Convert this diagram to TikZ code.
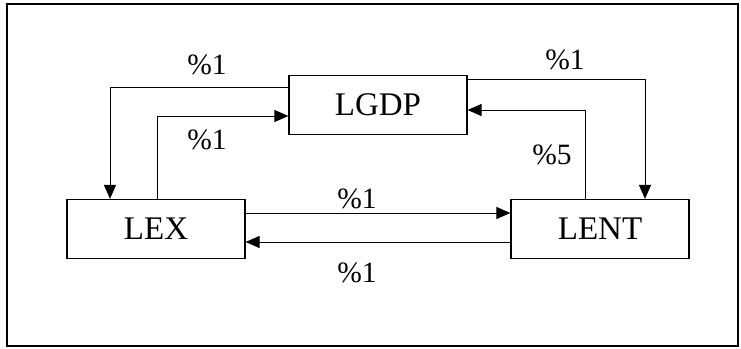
\documentclass[tikz,border=0pt]{standalone}
\usepackage{fontspec}
\setmainfont{Liberation Serif}
\usetikzlibrary{arrows.meta}
\tikzset{
	varbox/.style={draw, line width=1.2pt, inner sep=0pt, minimum width=178pt, minimum height=59pt, font=\fontsize{33}{34}\selectfont},
	lagtext/.style={inner sep=0pt, font=\fontsize{29.5}{30}\selectfont},
	arr/.style={line width=1pt, -{Triangle[length=14pt, width=12pt]}}
}
\begin{document}
\begin{tikzpicture}[x=1pt, y=-1pt]
	\useasboundingbox (0, 0) rectangle (741, 348);
	\draw[line width=2pt](7, 4) rectangle (738, 346);

		% the three variables
		\node[varbox](lgdp) at(378, 105){LGDP};
		\node[varbox](lex) at(156, 229){LEX};
		\node[varbox](lent) at(600, 229){LENT};

		% bends of the connectors
		\coordinate(b1) at(110, 87);
		\coordinate(b2) at(157, 116);
		\coordinate(b3) at(645, 79);
		\coordinate(b4) at(585, 110);
		\coordinate(h1) at(0, 213);
		\coordinate(h2) at(0, 242);

			\draw[arr](lgdp.west |- b1) -- (b1) -- (b1 |- lex.north);
			\node[lagtext](l1) at(207, 65){\%1};

			\draw[arr](b2 |- lex.north) -- (b2) -- (lgdp.west |- b2);
			\node[lagtext](l2) at(207, 140){\%1};

			\draw[arr](lgdp.east |- b3) -- (b3) -- (b3 |- lent.north);
			\node[lagtext](l3) at(565, 60){\%1};

			\draw[arr](b4 |- lent.north) -- (b4) -- (lgdp.east |- b4);
			\node[lagtext](l4) at(552, 155){\%5};

			\draw[arr](lex.east |- h1) -- (lent.west |- h1);
			\node[lagtext](l5) at(357, 199){\%1};

			\draw[arr](lent.west |- h2) -- (lex.east |- h2);
			\node[lagtext](l6) at(357, 273){\%1};
\end{tikzpicture}
\end{document}
